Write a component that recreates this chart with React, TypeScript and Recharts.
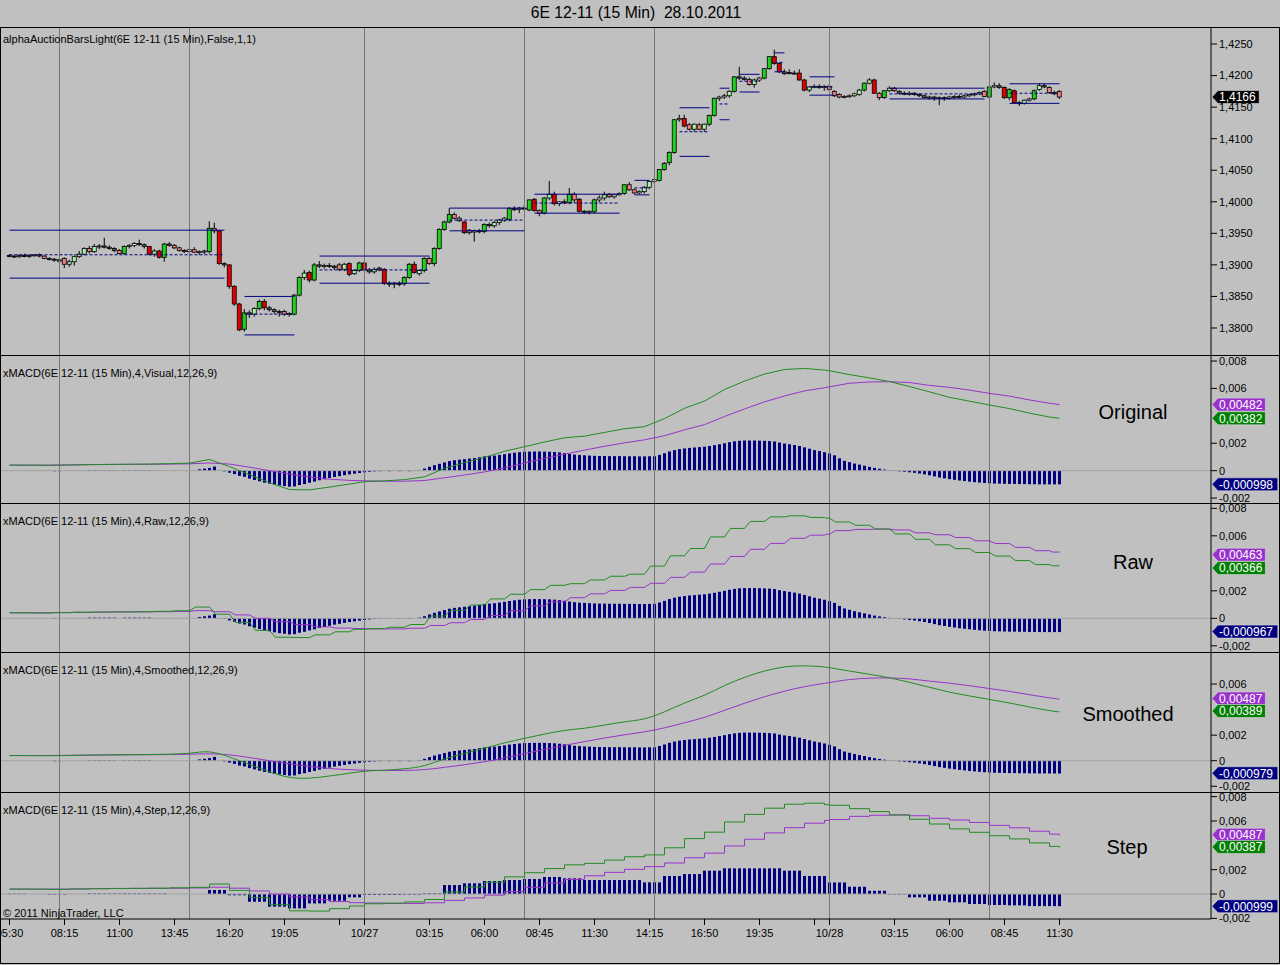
import { ComposedChart, Bar, Line, XAxis, YAxis, ReferenceLine } from 'recharts';

const FONT = '"Liberation Sans", Arial, sans-serif';

// 15 min bars, [open, high, low, close], price x 10000
const day1Bars = [
  [13915, 13917, 13912, 13914], [13914, 13916, 13911, 13913], [13913, 13917, 13911, 13915], [13915, 13918, 13912, 13914],
  [13914, 13917, 13911, 13915], [13915, 13917, 13913, 13916], [13916, 13918, 13912, 13914], [13914, 13915, 13909, 13910],
  [13910, 13912, 13907, 13909], [13909, 13911, 13905, 13908], [13908, 13910, 13903, 13906], [13910, 13912, 13895, 13901],
  [13901, 13908, 13897, 13905], [13905, 13915, 13899, 13913], [13913, 13922, 13911, 13917], [13917, 13928, 13915, 13926],
  [13926, 13930, 13918, 13921], [13921, 13933, 13919, 13929], [13929, 13933, 13925, 13930], [13930, 13943, 13926, 13928],
  [13928, 13931, 13924, 13926], [13926, 13928, 13920, 13923], [13923, 13925, 13917, 13918], [13918, 13931, 13916, 13929],
  [13929, 13933, 13926, 13931], [13931, 13936, 13928, 13934], [13934, 13940, 13930, 13932], [13932, 13934, 13926, 13929],
  [13929, 13930, 13915, 13917], [13917, 13925, 13913, 13922], [13922, 13924, 13910, 13912], [13912, 13935, 13905, 13933],
  [13933, 13936, 13929, 13931], [13931, 13933, 13925, 13927], [13927, 13929, 13921, 13923], [13923, 13925, 13919, 13921],
  [13921, 13926, 13918, 13924], [13924, 13928, 13919, 13920], [13920, 13923, 13916, 13921], [13921, 13924, 13917, 13922],
  [13921, 13969, 13918, 13958], [13958, 13967, 13950, 13954], [13954, 13955, 13900, 13902], [13902, 13904, 13896, 13900],
  [13900, 13901, 13862, 13866], [13866, 13868, 13835, 13838], [13838, 13840, 13795, 13797], [13798, 13830, 13794, 13824],
  [13824, 13828, 13816, 13822], [13822, 13833, 13818, 13831], [13831, 13845, 13828, 13842], [13842, 13846, 13828, 13832],
  [13832, 13835, 13826, 13829], [13829, 13831, 13822, 13826], [13826, 13829, 13818, 13825], [13826, 13829, 13819, 13822],
  [13822, 13825, 13818, 13823], [13822, 13854, 13820, 13852], [13852, 13882, 13850, 13880], [13880, 13892, 13876, 13887],
  [13888, 13891, 13872, 13876], [13876, 13903, 13874, 13900], [13900, 13906, 13895, 13898], [13898, 13902, 13894, 13899],
  [13899, 13903, 13895, 13898], [13898, 13900, 13892, 13896], [13900, 13903, 13890, 13893], [13893, 13903, 13890, 13901],
  [13902, 13904, 13882, 13885], [13886, 13893, 13884, 13891], [13891, 13905, 13889, 13903],
];
const day2Bars = [
  [13903, 13905, 13890, 13892], [13892, 13895, 13886, 13889], [13889, 13896, 13886, 13893], [13895, 13897, 13890, 13892],
  [13893, 13895, 13868, 13871], [13871, 13874, 13865, 13870], [13870, 13873, 13863, 13871], [13871, 13874, 13866, 13869],
  [13870, 13882, 13867, 13880], [13880, 13903, 13878, 13901], [13901, 13905, 13886, 13888], [13886, 13893, 13883, 13891],
  [13891, 13912, 13888, 13910], [13910, 13913, 13900, 13902], [13902, 13928, 13898, 13926], [13926, 13958, 13924, 13956],
  [13956, 13970, 13954, 13968], [13968, 13990, 13966, 13980], [13980, 13983, 13972, 13974], [13974, 13977, 13968, 13970],
  [13968, 13970, 13949, 13951], [13955, 13957, 13948, 13951], [13952, 13956, 13937, 13954], [13954, 13957, 13950, 13953],
  [13953, 13966, 13950, 13964], [13964, 13967, 13959, 13962], [13962, 13970, 13959, 13967], [13967, 13973, 13963, 13971],
  [13971, 13976, 13968, 13974], [13972, 13992, 13969, 13989], [13989, 13993, 13985, 13988], [13988, 13992, 13982, 13990],
  [13990, 13994, 13986, 13989], [13987, 14004, 13985, 14003], [14004, 14006, 13984, 13986], [13986, 13988, 13977, 13982],
  [13982, 14007, 13980, 14006], [14006, 14033, 14003, 14012], [14012, 14016, 13994, 13997], [13997, 14001, 13993, 14000],
  [14000, 14004, 13996, 13999], [13999, 14022, 13996, 14012], [14012, 14015, 13998, 14003], [14004, 14006, 13983, 13985],
  [13985, 13987, 13981, 13984], [13984, 13986, 13980, 13985], [13984, 14005, 13982, 14003], [14003, 14010, 13999, 14006],
  [14006, 14016, 14002, 14011], [14012, 14014, 14006, 14008], [14008, 14013, 14005, 14011], [14011, 14015, 14010, 14013],
  [14013, 14028, 14011, 14027], [14027, 14031, 14017, 14019], [14019, 14021, 14012, 14014], [14014, 14018, 14012, 14016],
  [14016, 14025, 14013, 14023], [14023, 14033, 14020, 14032], [14032, 14037, 14029, 14035], [14034, 14052, 14032, 14051],
  [14051, 14063, 14049, 14061], [14062, 14080, 14058, 14078], [14078, 14131, 14076, 14130], [14130, 14138, 14127, 14132],
  [14132, 14138, 14118, 14120], [14122, 14125, 14113, 14115], [14115, 14124, 14111, 14123], [14122, 14125, 14113, 14115],
  [14115, 14124, 14111, 14123], [14123, 14138, 14120, 14137], [14137, 14165, 14135, 14164], [14164, 14168, 14160, 14166],
  [14166, 14171, 14163, 14168], [14168, 14177, 14165, 14175], [14175, 14199, 14173, 14198], [14198, 14214, 14193, 14196],
  [14196, 14199, 14192, 14194], [14194, 14197, 14184, 14186], [14186, 14195, 14181, 14193], [14193, 14198, 14190, 14196],
  [14196, 14212, 14194, 14211], [14211, 14231, 14209, 14230], [14230, 14241, 14217, 14219], [14219, 14221, 14204, 14206],
  [14206, 14210, 14201, 14203], [14205, 14210, 14202, 14203], [14204, 14208, 14201, 14203], [14204, 14210, 14192, 14193],
  [14193, 14195, 14175, 14177], [14177, 14183, 14174, 14182], [14182, 14186, 14180, 14183], [14183, 14186, 14179, 14181],
  [14181, 14185, 14176, 14183],
];
const day3Bars = [
  [14183, 14186, 14176, 14178], [14175, 14177, 14166, 14168], [14170, 14172, 14164, 14166], [14166, 14169, 14164, 14167],
  [14167, 14170, 14165, 14168], [14168, 14173, 14166, 14171], [14170, 14179, 14168, 14177], [14177, 14189, 14175, 14188],
  [14188, 14196, 14186, 14193], [14193, 14195, 14171, 14172], [14172, 14174, 14161, 14165], [14165, 14177, 14163, 14176],
  [14176, 14183, 14174, 14180], [14180, 14182, 14174, 14176], [14175, 14177, 14170, 14172], [14172, 14175, 14169, 14171],
  [14171, 14175, 14168, 14172], [14172, 14174, 14168, 14170], [14170, 14172, 14166, 14168], [14168, 14170, 14164, 14165],
  [14165, 14168, 14162, 14166], [14166, 14168, 14160, 14164], [14164, 14167, 14153, 14165], [14165, 14167, 14160, 14164],
  [14164, 14168, 14162, 14166], [14166, 14169, 14163, 14167], [14167, 14170, 14164, 14166], [14166, 14170, 14164, 14168],
  [14168, 14171, 14166, 14170], [14170, 14173, 14167, 14171], [14171, 14175, 14169, 14173], [14175, 14177, 14166, 14167],
  [14166, 14183, 14164, 14182], [14182, 14189, 14180, 14184], [14184, 14188, 14179, 14181], [14181, 14183, 14163, 14165],
  [14165, 14180, 14161, 14178], [14176, 14178, 14155, 14157], [14157, 14160, 14152, 14156], [14156, 14162, 14154, 14161],
  [14161, 14165, 14159, 14163], [14163, 14178, 14161, 14176], [14178, 14188, 14176, 14184], [14184, 14187, 14180, 14182],
  [14181, 14183, 14171, 14173], [14173, 14176, 14169, 14171], [14175, 14177, 14163, 14166],
];
const lastPrice = 14166;

// auction value areas: bar span, high, low, point of control
const vaFrom = [0, 47, 62, 88, 105, 125, 134, 142, 146, 153, 160, 176, 200];
const vaTo = [43, 57, 84, 103, 122, 128, 140, 144, 150, 155, 165, 195, 210];
const vaHigh = [13955, 13850, 13914, 13990, 14012, 14034, 14149, 14180, 14202, 14236, 14198, 14180, 14187];
const vaLow = [13879, 13789, 13871, 13954, 13982, 14011, 14072, 14130, 14174, 14206, 14169, 14163, 14156];
const vaPoc = [13916, 13822, 13892, 13971, 13998, 14022, 14111, 14155, 14191, 14221, 14182, 14171, 14172];

// MACD histogram per bar (x 0.001)
const histDay1 = [
  0, 0, 0, 0, 0, 0, 0, 0, 0, -0.04, -0.04, 0, 0, 0, 0, 0,
  0.05, 0.05, 0.05, 0.05, 0.05, 0.05, 0, 0.05, 0.05, 0.05, 0.05, 0.05, 0.05,
  0, 0, 0, 0, 0, 0, 0, 0, 0, 0.1, 0.15, 0.2, 0.3, 0,
  -0.05, -0.15, -0.25, -0.38, -0.45, -0.58, -0.68, -0.78, -0.88, -0.95,
  -1.02, -1.08, -1.12, -1.17, -1.15, -1.05, -0.98, -0.88, -0.8, -0.7,
  -0.63, -0.54, -0.46, -0.4, -0.33, -0.27, -0.22, -0.17,
];
const histDay2 = [
  -0.12, -0.08, -0.05, -0.04, 0, -0.04, 0, -0.04, 0, -0.04, 0,
  0.05, 0.15, 0.28, 0.4, 0.5, 0.6, 0.7, 0.76, 0.8, 0.84,
  0.88, 0.92, 0.98, 1.04, 1.07, 1.1, 1.15, 1.2, 1.26, 1.31,
  1.35, 1.38, 1.39, 1.4, 1.4, 1.39, 1.38, 1.36, 1.33, 1.28,
  1.22, 1.17, 1.14, 1.12, 1.1, 1.08, 1.07, 1.07, 1.06, 1.06,
  1.06, 1.05, 1.05, 1.05, 1.04, 1.04, 1.05, 1.05, 1.15, 1.27,
  1.4, 1.5, 1.57, 1.62, 1.66, 1.69, 1.72, 1.75, 1.8, 1.86,
  1.93, 2.0, 2.08, 2.14, 2.18, 2.2, 2.2, 2.2, 2.19, 2.18,
  2.16, 2.13, 2.05, 1.98, 1.93, 1.87, 1.8, 1.7, 1.6, 1.5,
  1.43, 1.35,
];
const histDay3 = [
  1.25, 1.12, 0.9, 0.72, 0.62, 0.52, 0.44, 0.36, 0.28, 0.2,
  0.14, 0.08, 0.03, -0.02, -0.05, -0.08, -0.12, -0.16, -0.21, -0.27,
  -0.34, -0.42, -0.5, -0.56, -0.62, -0.67, -0.72, -0.76, -0.8, -0.84,
  -0.87, -0.9, -0.92, -0.94, -0.95, -0.96, -0.97, -0.97, -0.98, -0.98,
  -0.99, -0.99, -1.0, -1.0, -1.0, -1.0, -1.0,
];

// hourly MACD readings (x 0.001), one per hour of each session plus the last bar
const macdDay1 = [0.41, 0.40, 0.38, 0.41, 0.44, 0.46, 0.47, 0.48, 0.51, 0.55, 0.82, 0.30, -0.30, -0.88, -1.38, -1.40, -1.20, -0.98];
const macdDay2 = [-0.80, -0.75, -0.65, -0.45, 0.17, 0.58, 0.97, 1.41, 1.75, 2.09, 2.40, 2.52, 2.79, 3.06, 3.21, 3.80, 4.55, 5.08, 5.92, 6.54, 7.05, 7.38, 7.46, 7.34];
const macdDay3 = [7.29, 7.01, 6.77, 6.50, 6.14, 5.75, 5.35, 5.07, 4.79, 4.53, 4.20, 3.91, 3.82];
const signalDay1 = [0.40, 0.40, 0.41, 0.42, 0.44, 0.45, 0.46, 0.47, 0.48, 0.50, 0.56, 0.48, 0.25, 0.00, -0.25, -0.46, -0.62, -0.71];
const signalDay2 = [-0.74, -0.77, -0.77, -0.72, -0.52, -0.32, -0.09, 0.20, 0.55, 0.90, 1.20, 1.50, 1.78, 2.03, 2.25, 2.55, 2.98, 3.36, 3.95, 4.50, 5.02, 5.45, 5.82, 6.05];
const signalDay3 = [6.12, 6.38, 6.47, 6.49, 6.43, 6.22, 6.08, 5.88, 5.64, 5.44, 5.16, 4.92, 4.82];
const stepHistDay1 = [0.03, 0, -0.04, 0, 0.04, 0.04, 0.04, 0.04, 0, 0, 0.33, -0.1, -0.63, -1.04, -1.18, -0.77, -0.55, -0.27];
const stepHistDay2 = [-0.08, -0.08, -0.05, 0.05, 0.74, 0.88, 1.07, 1.15, 1.23, 1.4, 1.29, 1.15, 1.15, 1.15, 0.96, 1.48, 1.64, 1.92, 2.11, 2.11, 2.11, 1.92, 1.48, 1.48];
const stepHistDay3 = [0.95, 0.6, 0.27, -0.03, -0.27, -0.55, -0.68, -0.82, -0.9, -0.93, -0.99, -0.99, -1.0];

// last values shown in the tags: Original, Raw, Smoothed, Step
const tagSignal = [4.82, 4.63, 4.87, 4.87];
const tagMacd = [3.82, 3.66, 3.89, 3.87];
const tagHist = [-0.998, -0.967, -0.979, -0.999];

const sessionStarts = [0, 71, 164];
const sessionLines = [10, 36, 71, 103, 129, 164, 196];
const timeTicks = [0, 11, 22, 33, 44, 55, 66, 71, 84, 95, 106, 117, 128, 139, 150, 161, 164, 177, 188, 199, 210];
const timeLabels = ['05:30', '08:15', '11:00', '13:45', '16:20', '19:05', '', '10/27', '03:15', '06:00', '08:45', '11:30',
  '14:15', '16:50', '19:35', '', '10/28', '03:15', '06:00', '08:45', '11:30'];
const priceTicks = [13800, 13850, 13900, 13950, 14000, 14050, 14100, 14150, 14200, 14250];

const bars = [...day1Bars, ...day2Bars, ...day3Bars];
const histVisual = [...histDay1, ...histDay2, ...histDay3];
const macdLine = [...macdDay1, ...macdDay2, ...macdDay3];
const signalLine = [...signalDay1, ...signalDay2, ...signalDay3];
const stepHist = [...stepHistDay1, ...stepHistDay2, ...stepHistDay3];
const lastBar = bars.length - 1;

const hourBars: number[] = [];
sessionStarts.forEach((s, k) => {
  const end = k + 1 < sessionStarts.length ? sessionStarts[k + 1] : lastBar;
  for (let i = s; i < end; i += 4) hourBars.push(i);
});
hourBars.push(lastBar);

const hourOf = (i: number) => {
  let k = 0;
  while (k + 1 < hourBars.length && hourBars[k + 1] <= i) k++;
  return k;
};

const rows = bars.map(([o, h, l, c], i) => {
  const k = hourBars.indexOf(i);
  return {
    i, o, h, l, c,
    range: [l, h],
    hv: histVisual[i],
    hs: stepHist[hourOf(i)],
    macd: k >= 0 ? macdLine[k] : undefined,
    signal: k >= 0 ? signalLine[k] : undefined,
  };
});

const timeLabelOf: Record<number, string> = {};
timeTicks.forEach((t, k) => { timeLabelOf[t] = timeLabels[k]; });

const X_DOMAIN = [-1.7, 240.3];
const fmtPrice = (v: number) => (v / 10000).toFixed(4).replace('.', ',');
const fmtMacd = (v: number) => (v === 0 ? '0' : (v / 1000).toFixed(3).replace('.', ','));
const fmtTag = (v: number) => (v / 1000).toPrecision(3).replace('.', ',');

// raw xMACD: value jumps early in each hour then holds
const slantStep = (context: any) => {
  let px = 0;
  let n = 0;
  return {
    areaStart() {},
    areaEnd() {},
    lineStart() { n = 0; },
    lineEnd() {},
    point(x: number, y: number) {
      if (n === 0) context.moveTo(x, y);
      else {
        context.lineTo(px + (x - px) * 0.3, y);
        context.lineTo(x, y);
      }
      px = x;
      n++;
    },
  };
};

const candleColor = (o: number, c: number) => {
  const d = c - o;
  if (d >= 10) return '#1ed21e';
  if (d >= 4) return '#a8f0a8';
  if (d > 0) return '#ffffff';
  if (d <= -10) return '#e00000';
  if (d <= -4) return '#f08080';
  return '#5a6478';
};

function Candle(props: any) {
  const { x, y, width, height, payload } = props;
  if (x == null || !payload) return null;
  const { o, h, l, c } = payload;
  const cx = x + width / 2;
  const span = h - l || 1;
  const py = (v: number) => y + ((h - v) / span) * height;
  const top = py(Math.max(o, c));
  const bot = py(Math.min(o, c));
  return (
    <g>
      <line x1={cx} x2={cx} y1={y} y2={y + height} stroke="#000" strokeWidth={1} />
      <rect x={cx - 2} y={top} width={4} height={Math.max(1, bot - top)} fill={candleColor(o, c)} stroke="#000" strokeWidth={0.8} />
    </g>
  );
}

function Tag(props: any) {
  const { viewBox, text, fill } = props;
  if (!viewBox) return null;
  const x = viewBox.x + viewBox.width;
  const y = viewBox.y;
  const w = text.length * 6.2 + 4;
  const pts = [[x + 1, y], [x + 7, y - 6.5], [x + 7 + w, y - 6.5], [x + 7 + w, y + 6.5], [x + 7, y + 6.5]]
    .map((p) => p.join(',')).join(' ');
  return (
    <g>
      <polygon points={pts} fill={fill} stroke="#d8d8d8" strokeWidth={0.6} />
      <text x={x + 8} y={y + 4.3} fill="#fff" fontSize={12} fontFamily={FONT}>{text}</text>
    </g>
  );
}

const tickStyle = { fontSize: 11, fill: '#000', fontFamily: FONT };

const panels = [
  { top: 355, height: 148, domain: [-2.36, 8.44], ticks: [-2, 0, 2, 6, 8], curve: 'linear', hist: 'hv', name: 'Original', label: 'xMACD(6E 12-11 (15 Min),4,Visual,12,26,9)', nx: 1133, ny: 412 },
  { top: 503, height: 149, domain: [-2.45, 8.39], ticks: [-2, 0, 2, 6, 8], curve: slantStep, hist: 'hv', name: 'Raw', label: 'xMACD(6E 12-11 (15 Min),4,Raw,12,26,9)', nx: 1133, ny: 562 },
  { top: 652, height: 140, domain: [-2.45, 8.51], ticks: [-2, 0, 2, 6], curve: 'basis', hist: 'hv', name: 'Smoothed', label: 'xMACD(6E 12-11 (15 Min),4,Smoothed,12,26,9)', nx: 1128, ny: 714 },
  { top: 792, height: 127, domain: [-2.05, 8.38], ticks: [-2, 0, 2, 6, 8], curve: 'stepAfter', hist: 'hs', name: 'Step', label: 'xMACD(6E 12-11 (15 Min),4,Step,12,26,9)', nx: 1127, ny: 847 },
];

function PriceChart() {
  return (
    <ComposedChart width={1280} height={327} data={rows} margin={{ top: 0, right: 0, bottom: 0, left: 1 }}>
      <XAxis type="number" dataKey="i" domain={X_DOMAIN} allowDataOverflow hide />
      <YAxis orientation="right" width={69} domain={[13757.2, 14275.4]} allowDataOverflow ticks={priceTicks} interval={0}
        tickFormatter={fmtPrice} tick={tickStyle} tickSize={6} tickMargin={2} axisLine={{ stroke: '#000' }} tickLine={{ stroke: '#000' }} />
      {sessionLines.map((s) => <ReferenceLine key={`g${s}`} x={s} stroke="#767676" />)}
      {vaFrom.map((f, k) => (
        <ReferenceLine key={`h${k}`} segment={[{ x: f, y: vaHigh[k] }, { x: vaTo[k], y: vaHigh[k] }]} stroke="#000080" />
      ))}
      {vaFrom.map((f, k) => (
        <ReferenceLine key={`l${k}`} segment={[{ x: f, y: vaLow[k] }, { x: vaTo[k], y: vaLow[k] }]} stroke="#000080" />
      ))}
      {vaFrom.map((f, k) => (
        <ReferenceLine key={`p${k}`} segment={[{ x: f, y: vaPoc[k] }, { x: vaTo[k], y: vaPoc[k] }]} stroke="#000080" strokeDasharray="3 2" />
      ))}
      <Bar dataKey="range" barSize={5} shape={(p: any) => <Candle {...p} />} isAnimationActive={false} />
      <ReferenceLine y={lastPrice} stroke="none" label={(p: any) => <Tag viewBox={p.viewBox} text={fmtPrice(lastPrice)} fill="#000" />} />
    </ComposedChart>
  );
}

function MacdChart({ k }: { k: number }) {
  const p = panels[k];
  const withTime = k === panels.length - 1;
  return (
    <ComposedChart width={1280} height={p.height + (withTime ? 44 : 0)} data={rows} margin={{ top: 0, right: 0, bottom: 0, left: 1 }}>
      <XAxis type="number" dataKey="i" domain={X_DOMAIN} allowDataOverflow hide={!withTime} height={44}
        ticks={timeTicks} interval={0} tickFormatter={(v: number) => timeLabelOf[v] ?? ''} tick={tickStyle}
        tickSize={6} tickMargin={4} axisLine={{ stroke: '#000' }} tickLine={{ stroke: '#000' }} />
      <YAxis orientation="right" width={69} domain={p.domain} allowDataOverflow ticks={p.ticks} interval={0}
        tickFormatter={fmtMacd} tick={tickStyle} tickSize={6} tickMargin={2} axisLine={{ stroke: '#000' }} tickLine={{ stroke: '#000' }} />
      {sessionLines.map((s) => <ReferenceLine key={`g${s}`} x={s} stroke="#767676" />)}
      <ReferenceLine y={0} stroke="#a2a2a2" />
      <Bar dataKey={p.hist} fill="#000080" barSize={3} isAnimationActive={false} />
      <Line dataKey="signal" type={p.curve as any} stroke="#9932cc" strokeWidth={1} dot={false} activeDot={false} connectNulls isAnimationActive={false} />
      <Line dataKey="macd" type={p.curve as any} stroke="#228b22" strokeWidth={1} dot={false} activeDot={false} connectNulls isAnimationActive={false} />
      <ReferenceLine y={tagSignal[k]} stroke="none" label={(q: any) => <Tag viewBox={q.viewBox} text={fmtTag(tagSignal[k])} fill="#9932cc" />} />
      <ReferenceLine y={tagMacd[k]} stroke="none" label={(q: any) => <Tag viewBox={q.viewBox} text={fmtTag(tagMacd[k])} fill="#008000" />} />
      <ReferenceLine y={tagHist[k]} stroke="none" label={(q: any) => <Tag viewBox={q.viewBox} text={fmtTag(tagHist[k])} fill="#000080" />} />
    </ComposedChart>
  );
}

const hLine = (top: number, width = 1280) => (
  <div key={`sep${top}`} style={{ position: 'absolute', left: 0, top, width, height: 1, background: '#000' }} />
);

const smallText = (text: string, top: number) => (
  <div key={text} style={{ position: 'absolute', left: 3, top: top - 7, fontSize: 11, lineHeight: '14px', whiteSpace: 'nowrap', color: '#000' }}>{text}</div>
);

export default function App() {
  return (
    <div style={{ position: 'absolute', left: 0, top: 0, width: 1280, height: 965, background: '#c0c0c0', fontFamily: FONT, overflow: 'hidden' }}>
      <div style={{ position: 'absolute', left: 0, top: 3, width: 1272, textAlign: 'center', fontSize: 15.7, lineHeight: '20px', whiteSpace: 'pre', color: '#000' }}>
        {'6E 12-11 (15 Min)  28.10.2011'}
      </div>
      <div style={{ position: 'absolute', left: 0, top: 28 }}><PriceChart /></div>
      {panels.map((p, k) => (
        <div key={p.name} style={{ position: 'absolute', left: 0, top: p.top }}><MacdChart k={k} /></div>
      ))}
      {smallText('alphaAuctionBarsLight(6E 12-11 (15 Min),False,1,1)', 39)}
      {panels.map((p) => smallText(p.label, p.top + 18))}
      {smallText('\u00a9 2011 NinjaTrader, LLC', 913)}
      {panels.map((p) => (
        <div key={`n${p.name}`} style={{ position: 'absolute', left: p.nx - 70, top: p.ny - 13, width: 140, textAlign: 'center', fontSize: 20, lineHeight: '26px', color: '#000' }}>{p.name}</div>
      ))}
      {hLine(27)}
      {panels.map((p) => hLine(p.top))}
      {hLine(963)}
      <div style={{ position: 'absolute', left: 0, top: 27, width: 1, height: 937, background: '#000' }} />
      <div style={{ position: 'absolute', left: 1279, top: 27, width: 1, height: 937, background: '#000' }} />
    </div>
  );
}
